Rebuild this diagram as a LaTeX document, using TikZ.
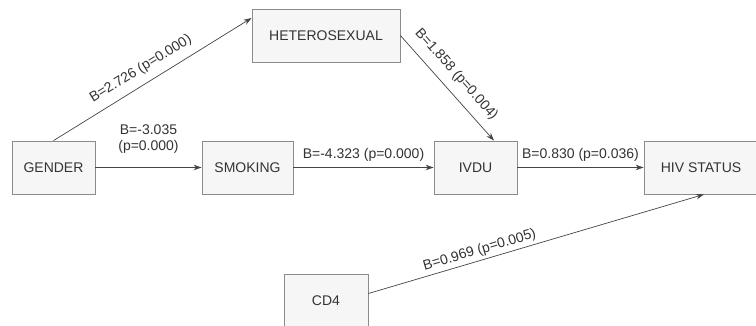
\documentclass[tikz,border=0pt]{standalone}
\usepackage{fontspec}
\setmainfont{Liberation Sans}
\usetikzlibrary{arrows.meta,shadows,calc}
\definecolor{txt}{HTML}{333333}
\definecolor{boxline}{HTML}{8C8C8C}
\definecolor{boxfill}{HTML}{F6F6F6}
\definecolor{arr}{HTML}{454545}
\tikzset{
  varbox/.style={draw=boxline, fill=boxfill, line width=0.8pt, minimum height=53pt,
    text=txt, font=\fontsize{14}{16}\selectfont, inner sep=0pt,
    drop shadow={shadow xshift=1.2pt, shadow yshift=-1.2pt, fill=black, opacity=0.25}},
  path/.style={draw=arr, line width=0.7pt, -{Stealth[length=8pt,width=5.5pt]}},
  coef/.style={text=txt, font=\fontsize{14}{16}\selectfont, inner sep=3pt}
}
\begin{document}
\begin{tikzpicture}[x=1pt,y=-1pt]
\clip (0,0) rectangle (756,325);
\fill[white] (0,0) rectangle (756,325);
\node[varbox, minimum width=83pt] (gender) at (53.5,167.5) {GENDER};
\node[varbox, minimum width=91pt] (smoking) at (247.5,167.5) {SMOKING};
\node[varbox, minimum width=83pt] (ivdu) at (475.5,167.5) {IVDU};
\node[varbox, minimum width=114pt] (hiv) at (701,167.5) {HIV STATUS};
\node[varbox, minimum width=148pt] (hetero) at (326,35.5) {HETEROSEXUAL};
\node[varbox, minimum width=84pt] (cd4) at (326,300.5) {CD4};

\draw[path] (gender.north) -- node[coef, sloped, above, inner sep=8pt, pos=0.48] {B=2.726 (p=0.000)} ([yshift=17.5pt]hetero.west);
\draw[path] (hetero.east) -- node[coef, sloped, above, inner sep=9pt, pos=0.47] {B=1.858 (p=0.004)} ([xshift=18.5pt]ivdu.north);
\draw[path] (gender) -- node[coef, above, inner sep=14pt, align=center] {B=-3.035\\(p=0.000)} (smoking);
\draw[path] (smoking) -- node[coef, above, inner sep=6pt] {B=-4.323 (p=0.000)} (ivdu);
\draw[path] (ivdu) -- node[coef, above, inner sep=6pt] {B=0.830 (p=0.036)} (hiv);
\draw[path] ([yshift=7pt]cd4.east) -- node[coef, sloped, above, inner sep=3pt, pos=0.34] {B=0.969 (p=0.005)} ([xshift=3pt]hiv.south);
\end{tikzpicture}
\end{document}
